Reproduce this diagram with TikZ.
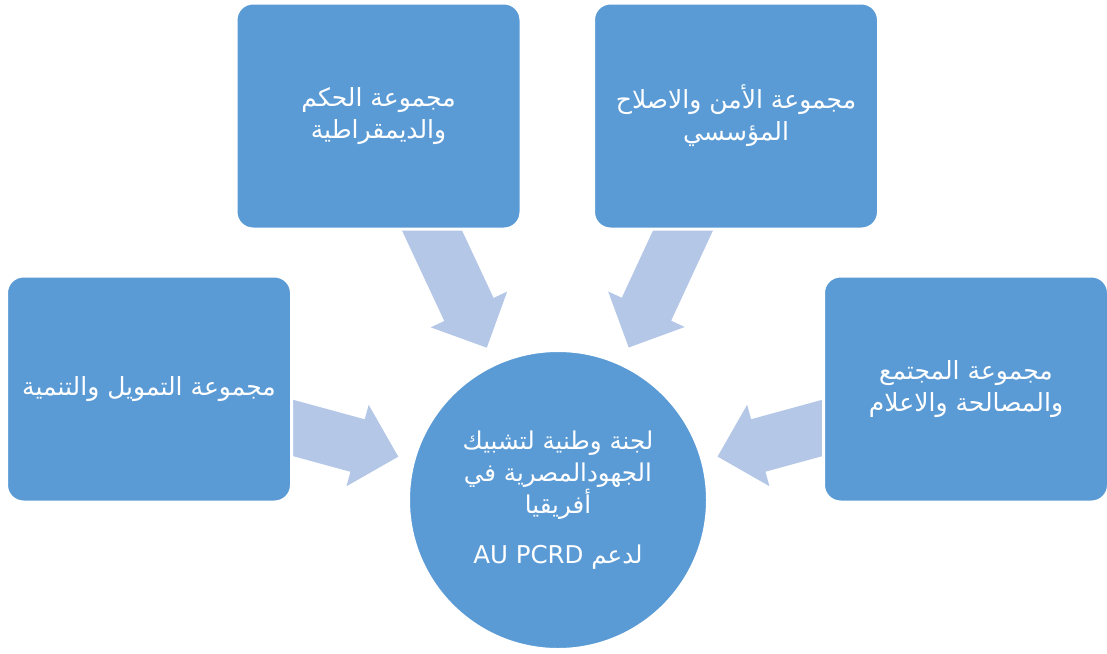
\documentclass[tikz,border=0pt]{standalone}
\usepackage{fontspec}
\usepackage{xcolor}
\usepackage{tikz}
\usetikzlibrary{shapes,arrows,positioning,calc,shapes.arrows,backgrounds}
\TeXXeTstate=1
\newfontfamily\arabicfont[Script=Arabic]{DejaVu Sans}
\newcommand{\rtl}[1]{\beginR #1\endR}
\definecolor{boxblue}{HTML}{5B9BD5}
\definecolor{arrowblue}{HTML}{B4C7E7}
\tikzset{
  groupbox/.style={rectangle, rounded corners=17pt, draw=white, line width=3pt, fill=boxblue, text=white, minimum width=285pt, minimum height=226pt, align=center, font=\arabicfont\fontsize{25}{32}\selectfont},
  hubnode/.style={circle, draw=white, line width=3pt, fill=boxblue, text=white, minimum size=299pt, inner sep=0pt, align=center, font=\arabicfont\fontsize{24.5}{32}\selectfont},
  feedarrow/.style={single arrow, fill=arrowblue, single arrow head extend=15pt, single arrow tip angle=90, inner xsep=0pt, inner ysep=27pt, sloped, allow upside down, anchor=tip, pos=0.885}
}

\begin{document}
\begin{tikzpicture}[x=1pt, y=-1pt]
    \useasboundingbox (0,0) rectangle (1107,653);

    % Governance Group
    \node[groupbox] (gov) at (378.5,116) {\rtl{مجموعة الحكم}\\\rtl{والديمقراطية}};

    % Security Group
    \node[groupbox] (sec) at (736,116) {\rtl{مجموعة الأمن والاصلاح}\\\rtl{المؤسسي}};

    % Finance Group
    \node[groupbox] (fin) at (149,389) {\rtl{مجموعة التمويل والتنمية}};

    % Society Group
    \node[groupbox] (soc) at (966,389) {\rtl{مجموعة المجتمع}\\\rtl{والمصالحة والاعلام}};

    % National Committee
    \node[hubnode] (core) at (558,500) {
        \rtl{لجنة وطنية لتشبيك}\\
        \rtl{الجهودالمصرية في}\\
        \rtl{أفريقيا}\\[0.75em]
        \rtl{لدعم \beginL AU PCRD\endL}
    };

    % Arrows (behind the groups)
    \begin{scope}[on background layer]
        \path (gov) -- node[feedarrow, minimum height=160pt] {} (core);
        \path (sec) -- node[feedarrow, minimum height=160pt] {} (core);
        \path (fin) -- node[feedarrow, minimum height=135pt] {} (core);
        \path (soc) -- node[feedarrow, minimum height=135pt] {} (core);
    \end{scope}
\end{tikzpicture}
\end{document}
